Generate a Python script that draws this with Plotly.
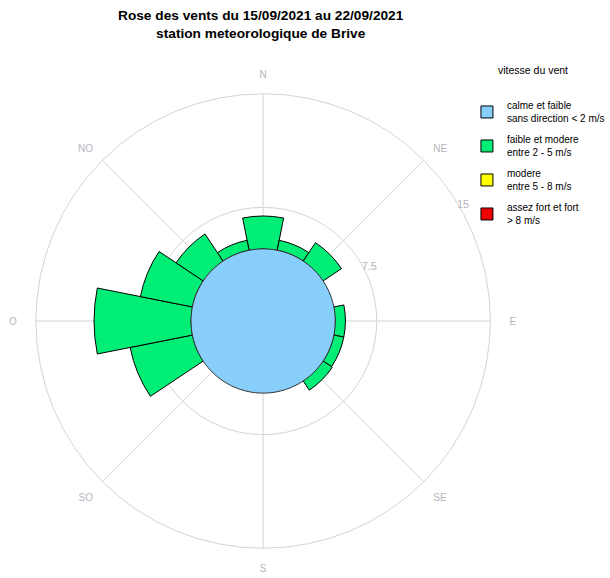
import plotly.graph_objects as go

# Data
directions = [0, 22.5, 45, 67.5, 90, 112.5, 135, 157.5, 180, 202.5, 225, 247.5, 270, 292.5, 315, 337.5]
calm_value = 4.76
moderate_values = [2.17, 0.67, 1.46, 0.0, 0.67, 0.67, 0.73, 0.0, 0.0, 0.0, 0.0, 4.19, 6.40, 3.50, 2.15, 0.67]
dir_tickvals = [0, 45, 90, 135, 180, 225, 270, 315]
dir_labels = ["N", "NE", "\u00a0\u00a0E", "SE", "S", "SO", "O\u00a0\u00a0", "NO"]
radial_ticks = [7.5, 15]
radial_ticklabels = ["7.5", "15"]
legend_names = [
    "calme et faible<br>sans direction < 2 m/s",
    "faible et modere<br>entre 2 - 5 m/s",
    "modere<br>entre 5 - 8 m/s",
    "assez fort et fort<br>> 8 m/s",
]
colors = ["#87CEFA", "#00EE76", "#FFFF00", "#EE0000"]

FONT = "Liberation Sans, Arial, sans-serif"
GRID = "#d4d4d4"
TICKC = "#b4b4bc"

fig = go.Figure()

# calm circle (outline traced around the full circle at the calm value)
circle_theta = [i * 2 for i in range(181)]
fig.add_trace(go.Scatterpolar(
    r=[calm_value] * len(circle_theta), theta=circle_theta,
    mode="lines", fill="toself", fillcolor=colors[0],
    line=dict(color="#333333", width=1),
    name=legend_names[0], legendgroup="a", showlegend=False, hoverinfo="skip",
))
fig.add_trace(go.Barpolar(
    r=[None], theta=[0],
    marker=dict(color=colors[0], line=dict(color="#000000", width=1)),
    name=legend_names[0], legendgroup="a",
))
nz = [(d, v) for d, v in zip(directions, moderate_values) if v > 0]
fig.add_trace(go.Barpolar(
    r=[v for d, v in nz], theta=[d for d, v in nz], width=[22.5] * len(nz),
    base=[calm_value] * len(nz),
    marker=dict(color=colors[1], line=dict(color="#000000", width=1)),
    name=legend_names[1], legendgroup="b",
))
fig.add_trace(go.Barpolar(
    r=[None], theta=[0],
    marker=dict(color=colors[2], line=dict(color="#000000", width=1)),
    name=legend_names[2], legendgroup="c",
))
fig.add_trace(go.Barpolar(
    r=[None], theta=[0],
    marker=dict(color=colors[3], line=dict(color="#000000", width=1)),
    name=legend_names[3], legendgroup="d",
))

fig.update_layout(
    width=610, height=578,
    margin=dict(l=0, r=0, t=0, b=0),
    paper_bgcolor="white",
    font=dict(family=FONT, size=10, color="black"),
    polar=dict(
        domain=dict(x=[36 / 610, 492 / 610], y=[(578 - 549) / 578, (578 - 93) / 578]),
        bgcolor="white",
        barmode="overlay",
        angularaxis=dict(
            rotation=90, direction="clockwise",
            tickmode="array", tickvals=dir_tickvals, ticktext=dir_labels,
            showgrid=True, gridcolor=GRID, gridwidth=1,
            showline=True, linecolor=GRID, linewidth=1,
            ticks="outside", ticklen=11, tickcolor="rgba(0,0,0,0)",
            tickfont=dict(size=10, color=TICKC, family=FONT),
        ),
        radialaxis=dict(
            range=[0, 15], tickmode="array", tickvals=radial_ticks, ticktext=radial_ticklabels,
            showgrid=True, gridcolor=GRID, gridwidth=1,
            showline=False, ticks="", angle=33, tickangle=33,
            tickfont=dict(size=11, color=TICKC, family=FONT),
        ),
    ),
    showlegend=True,
    legend=dict(
        x=0.768, y=0.84, xanchor="left", yanchor="top",
        font=dict(size=10, family=FONT), tracegroupgap=5,
        bgcolor="rgba(0,0,0,0)",
    ),
    annotations=[
        dict(text="<b>Rose des vents du 15/09/2021 au 22/09/2021<br>station meteorologique de Brive</b>",
             x=262 / 610, y=1 - 6 / 578, xref="paper", yref="paper",
             xanchor="center", yanchor="top", showarrow=False,
             font=dict(size=13.7, family=FONT, color="black")),
        dict(text="vitesse du vent", x=535 / 610, y=1 - 70 / 578, xref="paper", yref="paper",
             xanchor="center", yanchor="middle", showarrow=False,
             font=dict(size=10.5, family=FONT, color="black")),
    ],
)

fig.write_html("out.html", post_script="document.body.style.margin='0';",
               config={"displayModeBar": False})
